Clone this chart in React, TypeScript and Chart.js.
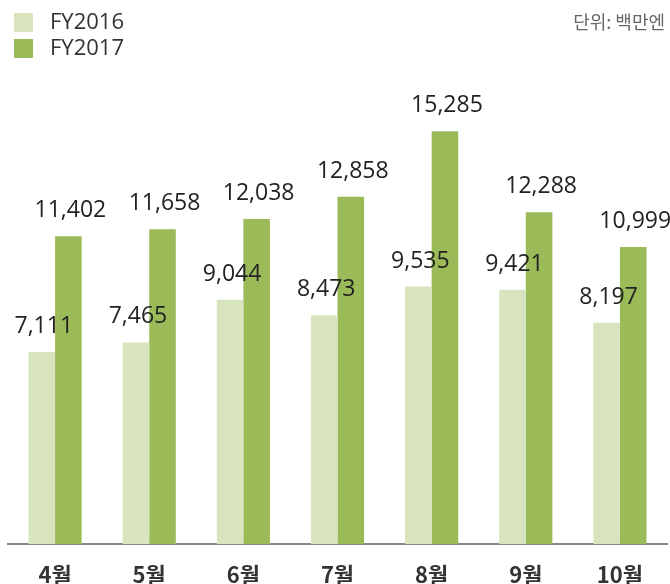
import React, { useEffect, useRef } from "react";
import { Chart, registerables } from "chart.js";

Chart.register(...registerables);

const categories = ["4월", "5월", "6월", "7월", "8월", "9월", "10월"];
const fy2016 = [7111, 7465, 9044, 8473, 9535, 9421, 8197];
const fy2017 = [11402, 11658, 12038, 12858, 15285, 12288, 10999];
const seriesNames = ["FY2016", "FY2017"];
const unitLabel = "단위: 백만엔";

const LIGHT = "#d7e4bd";
const DARK = "#9bbb59";

const overlayPlugin = {
  id: "overlay",
  afterDatasetsDraw(chart: any) {
    const ctx = chart.ctx;
    ctx.save();
    // data labels
    ctx.font = "23px 'Open Sans', 'Noto Sans', sans-serif";
    ctx.fillStyle = "#222";
    ctx.textAlign = "center";
    ctx.textBaseline = "alphabetic";
    chart.data.datasets.forEach((ds: any, i: number) => {
      const meta = chart.getDatasetMeta(i);
      meta.data.forEach((bar: any, j: number) => {
        const v = ds.data[j] as number;
        ctx.fillText(v.toLocaleString("en-US"), bar.x + 2, bar.y - 19);
      });
    });
    // legend
    const colors = [LIGHT, DARK];
    ctx.textAlign = "left";
    ctx.textBaseline = "middle";
    ctx.font = "22px 'Open Sans', 'Noto Sans', sans-serif";
    seriesNames.forEach((name, i) => {
      const y = 13 + i * 26;
      ctx.fillStyle = colors[i];
      ctx.fillRect(14, y, 19, 19);
      ctx.fillStyle = "#333";
      ctx.fillText(name, 50, y + 10);
    });
    // unit
    ctx.textAlign = "right";
    ctx.font = "18px 'Noto Sans CJK KR', 'Open Sans', sans-serif";
    ctx.fillStyle = "#666";
    ctx.fillText(unitLabel, 665, 22);
    ctx.restore();
  },
};

export default function App() {
  const ref = useRef<HTMLCanvasElement>(null);
  useEffect(() => {
    if (!ref.current) return;
    const chart = new Chart(ref.current, {
      type: "bar",
      data: {
        labels: categories,
        datasets: [
          { label: seriesNames[0], data: fy2016, backgroundColor: LIGHT, barPercentage: 1, categoryPercentage: 0.565 },
          { label: seriesNames[1], data: fy2017, backgroundColor: DARK, barPercentage: 1, categoryPercentage: 0.565 },
        ],
      },
      options: {
        animation: false,
        responsive: false,
        layout: { padding: { top: 112, left: 8, right: 3, bottom: 0 } },
        plugins: { legend: { display: false }, tooltip: { enabled: false } },
        scales: {
          x: {
            grid: { display: false, drawTicks: false },
            border: { display: true, color: "#888", width: 2 },
            ticks: {
              color: "#333",
              padding: 17,
              font: { size: 22, weight: "bold", family: "'Noto Sans CJK KR', 'Noto Sans', sans-serif" },
            },
            afterFit(scale: any) {
              scale.height = 40;
            },
          },
          y: {
            display: false,
            min: 0,
            max: 16000,
          },
        },
      },
      plugins: [overlayPlugin],
    });
    return () => chart.destroy();
  }, []);
  return (
    <div style={{ position: "fixed", left: 0, top: 0, width: 670, height: 584, background: "#fff" }}>
      <canvas ref={ref} width={670} height={584} style={{ display: "block" }} />
    </div>
  );
}
